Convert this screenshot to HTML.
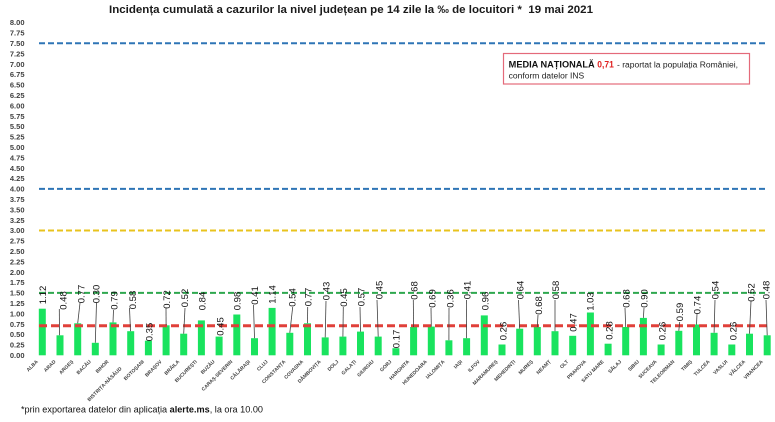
<!DOCTYPE html>
<html><head><meta charset="utf-8"><style>
html,body{margin:0;padding:0;background:#fff;}
svg{display:block;}
text{font-family:"Liberation Sans",Arial,sans-serif;}
.yl{font-size:7.5px;font-weight:bold;fill:#404040;text-anchor:end;}
.dl{font-size:9.5px;fill:#111;text-anchor:middle;}
.xl{font-size:5px;font-weight:bold;fill:#404040;text-anchor:end;}
.ld{stroke:#404040;stroke-width:0.8;}
.b{fill:#19e35e;}
</style></head><body>
<svg width="775" height="422" viewBox="0 0 775 422" xmlns="http://www.w3.org/2000/svg">
<rect width="775" height="422" fill="#fff"/>
<text x="109" y="13" font-size="11" font-weight="bold" fill="#1a1a1a" textLength="484" lengthAdjust="spacingAndGlyphs">Incidența cumulată a cazurilor la nivel județean pe 14 zile la ‰ de locuitori *&#160; 19 mai 2021</text>

<!-- y axis labels -->
<g class="yl">
<text x="24.5" y="358">0.00</text><text x="24.5" y="347.6">0.25</text><text x="24.5" y="337.2">0.50</text><text x="24.5" y="326.8">0.75</text>
<text x="24.5" y="316.4">1.00</text><text x="24.5" y="306">1.25</text><text x="24.5" y="295.6">1.50</text><text x="24.5" y="285.2">1.75</text>
<text x="24.5" y="274.8">2.00</text><text x="24.5" y="264.4">2.25</text><text x="24.5" y="254">2.50</text><text x="24.5" y="243.6">2.75</text>
<text x="24.5" y="233.2">3.00</text><text x="24.5" y="222.8">3.25</text><text x="24.5" y="212.4">3.50</text><text x="24.5" y="202">3.75</text>
<text x="24.5" y="191.6">4.00</text><text x="24.5" y="181.2">4.25</text><text x="24.5" y="170.8">4.50</text><text x="24.5" y="160.4">4.75</text>
<text x="24.5" y="150">5.00</text><text x="24.5" y="139.6">5.25</text><text x="24.5" y="129.2">5.50</text><text x="24.5" y="118.8">5.75</text>
<text x="24.5" y="108.4">6.00</text><text x="24.5" y="98">6.25</text><text x="24.5" y="87.6">6.50</text><text x="24.5" y="77.2">6.75</text>
<text x="24.5" y="66.8">7.00</text><text x="24.5" y="56.4">7.25</text><text x="24.5" y="46">7.50</text><text x="24.5" y="35.6">7.75</text>
<text x="24.5" y="25.2">8.00</text>
</g>

<!-- bars -->
<g class="b">
<rect x="38.8" y="308.7" width="7" height="46.6"/>
<rect x="56.5" y="335.3" width="7" height="20"/>
<rect x="74.2" y="323.3" width="7" height="32"/>
<rect x="91.8" y="342.8" width="7" height="12.5"/>
<rect x="109.5" y="322.4" width="7" height="32.9"/>
<rect x="127.2" y="331.2" width="7" height="24.1"/>
<rect x="144.9" y="340.7" width="7" height="14.6"/>
<rect x="162.6" y="325.3" width="7" height="30"/>
<rect x="180.2" y="333.7" width="7" height="21.6"/>
<rect x="197.9" y="320.4" width="7" height="34.9"/>
<rect x="215.6" y="336.6" width="7" height="18.7"/>
<rect x="233.3" y="314.5" width="7" height="40.8"/>
<rect x="251" y="338.2" width="7" height="17.1"/>
<rect x="268.6" y="307.9" width="7" height="47.4"/>
<rect x="286.3" y="332.8" width="7" height="22.5"/>
<rect x="304" y="323.3" width="7" height="32"/>
<rect x="321.7" y="337.4" width="7" height="17.9"/>
<rect x="339.4" y="336.6" width="7" height="18.7"/>
<rect x="357" y="331.6" width="7" height="23.7"/>
<rect x="374.7" y="336.6" width="7" height="18.7"/>
<rect x="392.4" y="348.2" width="7" height="7.1"/>
<rect x="410.1" y="327" width="7" height="28.3"/>
<rect x="427.8" y="326.6" width="7" height="28.7"/>
<rect x="445.4" y="340.3" width="7" height="15"/>
<rect x="463.1" y="338.2" width="7" height="17.1"/>
<rect x="480.8" y="315.4" width="7" height="39.9"/>
<rect x="498.5" y="344.5" width="7" height="10.8"/>
<rect x="516.2" y="328.7" width="7" height="26.6"/>
<rect x="533.8" y="327" width="7" height="28.3"/>
<rect x="551.5" y="331.2" width="7" height="24.1"/>
<rect x="569.2" y="335.8" width="7" height="19.5"/>
<rect x="586.9" y="312.5" width="7" height="42.8"/>
<rect x="604.6" y="343.7" width="7" height="11.6"/>
<rect x="622.2" y="327" width="7" height="28.3"/>
<rect x="639.9" y="317.9" width="7" height="37.4"/>
<rect x="657.6" y="344.5" width="7" height="10.8"/>
<rect x="675.3" y="330.8" width="7" height="24.5"/>
<rect x="693" y="324.5" width="7" height="30.8"/>
<rect x="710.6" y="332.8" width="7" height="22.5"/>
<rect x="728.3" y="344.5" width="7" height="10.8"/>
<rect x="746" y="333.7" width="7" height="21.6"/>
<rect x="763.7" y="335.3" width="7" height="20"/>
</g>

<!-- reference lines -->
<line x1="39" y1="43.3" x2="767" y2="43.3" stroke="#2e75b6" stroke-width="2" stroke-dasharray="6 3"/>
<line x1="39" y1="188.9" x2="767" y2="188.9" stroke="#2e75b6" stroke-width="2" stroke-dasharray="6 3"/>
<line x1="39" y1="230.5" x2="767" y2="230.5" stroke="#e8c31e" stroke-width="2" stroke-dasharray="6 3"/>
<line x1="39" y1="292.9" x2="767" y2="292.9" stroke="#2ea84f" stroke-width="2" stroke-dasharray="6 3"/>
<line x1="39" y1="325.8" x2="767" y2="325.8" stroke="#e0403a" stroke-width="3" stroke-dasharray="8 4"/>

<!-- leader lines -->
<g class="ld">
<line x1="59.3" y1="309" x2="59.5" y2="335.3"/>
<line x1="80" y1="303" x2="77.7" y2="323.3"/>
<line x1="96.5" y1="303" x2="95.3" y2="342.8"/>
<line x1="113.5" y1="310" x2="113" y2="322.4"/>
<line x1="129.5" y1="308" x2="130.5" y2="331.2"/>
<line x1="166" y1="308" x2="166.1" y2="325.3"/>
<line x1="185" y1="308" x2="183.7" y2="333.7"/>
<line x1="253.5" y1="305" x2="254.5" y2="338.2"/>
<line x1="292.7" y1="307" x2="289.8" y2="332.8"/>
<line x1="307.7" y1="307" x2="307.5" y2="323.3"/>
<line x1="326" y1="301" x2="325.2" y2="337.4"/>
<line x1="343.3" y1="307" x2="342.9" y2="336.6"/>
<line x1="360" y1="307" x2="360.5" y2="331.6"/>
<line x1="377" y1="300" x2="378.2" y2="336.6"/>
<line x1="413.3" y1="300" x2="413.6" y2="327"/>
<line x1="431" y1="308" x2="431.3" y2="326.6"/>
<line x1="449" y1="308" x2="448.9" y2="340.3"/>
<line x1="466.5" y1="300" x2="466.6" y2="338.2"/>
<line x1="518.5" y1="300" x2="519.7" y2="328.7"/>
<line x1="538" y1="315" x2="537.3" y2="327"/>
<line x1="555" y1="300" x2="555" y2="331.2"/>
<line x1="625" y1="308" x2="625.7" y2="327"/>
<line x1="644" y1="308" x2="643.4" y2="317.9"/>
<line x1="679.7" y1="322" x2="678.8" y2="330.8"/>
<line x1="697" y1="314" x2="696.5" y2="324.5"/>
<line x1="715" y1="300" x2="714.1" y2="332.8"/>
<line x1="751" y1="301" x2="749.5" y2="333.7"/>
<line x1="766" y1="300" x2="767.2" y2="335.3"/>
</g>

<!-- data labels -->
<g class="dl">
<text transform="translate(42.5,295) rotate(-90)" dy="0.35em">1.12</text>
<text transform="translate(63,300.5) rotate(-90)" dy="0.35em">0.48</text>
<text transform="translate(81,294) rotate(-90)" dy="0.35em">0.77</text>
<text transform="translate(96,294) rotate(-90)" dy="0.35em">0.30</text>
<text transform="translate(114,300.5) rotate(-90)" dy="0.35em">0.79</text>
<text transform="translate(132.5,300) rotate(-90)" dy="0.35em">0.58</text>
<text transform="translate(149,332) rotate(-90)" dy="0.35em">0.35</text>
<text transform="translate(166.5,299.5) rotate(-90)" dy="0.35em">0.72</text>
<text transform="translate(184.5,298) rotate(-90)" dy="0.35em">0.52</text>
<text transform="translate(202,301) rotate(-90)" dy="0.35em">0.84</text>
<text transform="translate(220,326.5) rotate(-90)" dy="0.35em">0.45</text>
<text transform="translate(237,301) rotate(-90)" dy="0.35em">0.98</text>
<text transform="translate(254.5,295.5) rotate(-90)" dy="0.35em">0.41</text>
<text transform="translate(272,294.5) rotate(-90)" dy="0.35em">1.14</text>
<text transform="translate(292,297.5) rotate(-90)" dy="0.35em">0.54</text>
<text transform="translate(308,297) rotate(-90)" dy="0.35em">0.77</text>
<text transform="translate(326,291) rotate(-90)" dy="0.35em">0.43</text>
<text transform="translate(343.7,297.5) rotate(-90)" dy="0.35em">0.45</text>
<text transform="translate(361,297) rotate(-90)" dy="0.35em">0.57</text>
<text transform="translate(379,290) rotate(-90)" dy="0.35em">0.45</text>
<text transform="translate(396.3,339) rotate(-90)" dy="0.35em">0.17</text>
<text transform="translate(414,290.5) rotate(-90)" dy="0.35em">0.68</text>
<text transform="translate(432,298.5) rotate(-90)" dy="0.35em">0.69</text>
<text transform="translate(450,298.5) rotate(-90)" dy="0.35em">0.36</text>
<text transform="translate(467,290) rotate(-90)" dy="0.35em">0.41</text>
<text transform="translate(485,301) rotate(-90)" dy="0.35em">0.96</text>
<text transform="translate(503,331) rotate(-90)" dy="0.35em">0.26</text>
<text transform="translate(520.3,290) rotate(-90)" dy="0.35em">0.64</text>
<text transform="translate(538.7,305.5) rotate(-90)" dy="0.35em">0.68</text>
<text transform="translate(555.7,290) rotate(-90)" dy="0.35em">0.58</text>
<text transform="translate(573,322.5) rotate(-90)" dy="0.35em">0.47</text>
<text transform="translate(590.3,301.5) rotate(-90)" dy="0.35em">1.03</text>
<text transform="translate(609,330.5) rotate(-90)" dy="0.35em">0.28</text>
<text transform="translate(626,298.5) rotate(-90)" dy="0.35em">0.68</text>
<text transform="translate(644,298.5) rotate(-90)" dy="0.35em">0.90</text>
<text transform="translate(662,331) rotate(-90)" dy="0.35em">0.26</text>
<text transform="translate(679.7,312) rotate(-90)" dy="0.35em">0.59</text>
<text transform="translate(697,305) rotate(-90)" dy="0.35em">0.74</text>
<text transform="translate(715,290) rotate(-90)" dy="0.35em">0.54</text>
<text transform="translate(733,331) rotate(-90)" dy="0.35em">0.26</text>
<text transform="translate(751,292.5) rotate(-90)" dy="0.35em">0.52</text>
<text transform="translate(766.3,290) rotate(-90)" dy="0.35em">0.48</text>
</g>

<!-- x axis labels -->
<g class="xl">
<text transform="translate(38.3,362) rotate(-45)">ALBA</text>
<text transform="translate(56,362) rotate(-45)">ARAD</text>
<text transform="translate(73.7,362) rotate(-45)">ARGEȘ</text>
<text transform="translate(91.3,362) rotate(-45)">BACĂU</text>
<text transform="translate(109,362) rotate(-45)">BIHOR</text>
<text transform="translate(122,369) rotate(-45)">BISTRIȚA-NĂSĂUD</text>
<text transform="translate(144.4,362) rotate(-45)">BOTOȘANI</text>
<text transform="translate(162.1,362) rotate(-45)">BRAȘOV</text>
<text transform="translate(179.7,362) rotate(-45)">BRĂILA</text>
<text transform="translate(197.4,362) rotate(-45)">BUCUREȘTI</text>
<text transform="translate(215.1,362) rotate(-45)">BUZĂU</text>
<text transform="translate(232.8,362) rotate(-45)">CARAȘ-SEVERIN</text>
<text transform="translate(250.5,362) rotate(-45)">CĂLĂRAȘI</text>
<text transform="translate(268.1,362) rotate(-45)">CLUJ</text>
<text transform="translate(285.8,362) rotate(-45)">CONSTANȚA</text>
<text transform="translate(303.5,362) rotate(-45)">COVASNA</text>
<text transform="translate(321.2,362) rotate(-45)">DÂMBOVIȚA</text>
<text transform="translate(338.9,362) rotate(-45)">DOLJ</text>
<text transform="translate(356.5,362) rotate(-45)">GALAȚI</text>
<text transform="translate(374.2,362) rotate(-45)">GIURGIU</text>
<text transform="translate(391.9,362) rotate(-45)">GORJ</text>
<text transform="translate(409.6,362) rotate(-45)">HARGHITA</text>
<text transform="translate(427.3,362) rotate(-45)">HUNEDOARA</text>
<text transform="translate(444.9,362) rotate(-45)">IALOMIȚA</text>
<text transform="translate(462.6,362) rotate(-45)">IAȘI</text>
<text transform="translate(480.3,362) rotate(-45)">ILFOV</text>
<text transform="translate(498,362) rotate(-45)">MARAMUREȘ</text>
<text transform="translate(515.7,362) rotate(-45)">MEHEDINȚI</text>
<text transform="translate(533.3,362) rotate(-45)">MUREȘ</text>
<text transform="translate(551,362) rotate(-45)">NEAMȚ</text>
<text transform="translate(568.7,362) rotate(-45)">OLT</text>
<text transform="translate(586.4,362) rotate(-45)">PRAHOVA</text>
<text transform="translate(604.1,362) rotate(-45)">SATU MARE</text>
<text transform="translate(621.7,362) rotate(-45)">SĂLAJ</text>
<text transform="translate(639.4,362) rotate(-45)">SIBIU</text>
<text transform="translate(657.1,362) rotate(-45)">SUCEAVA</text>
<text transform="translate(674.8,362) rotate(-45)">TELEORMAN</text>
<text transform="translate(692.5,362) rotate(-45)">TIMIȘ</text>
<text transform="translate(710.1,362) rotate(-45)">TULCEA</text>
<text transform="translate(727.8,362) rotate(-45)">VASLUI</text>
<text transform="translate(745.5,362) rotate(-45)">VÂLCEA</text>
<text transform="translate(763.2,362) rotate(-45)">VRANCEA</text>
</g>

<!-- legend box -->
<rect x="503.5" y="53.5" width="246" height="30.5" fill="#fff" stroke="#e46a7a" stroke-width="1.2"/>
<text x="508.7" y="67.3" font-size="9" font-weight="bold" fill="#111" textLength="86" lengthAdjust="spacingAndGlyphs">MEDIA NAȚIONALĂ</text>
<text x="597.3" y="67.3" font-size="9" font-weight="bold" fill="#e02020" textLength="16.5" lengthAdjust="spacingAndGlyphs">0,71</text>
<text x="617" y="67.3" font-size="7.8" fill="#222" textLength="121" lengthAdjust="spacingAndGlyphs">- raportat la populația României,</text>
<text x="508.7" y="78.3" font-size="7.8" fill="#222" textLength="75.5" lengthAdjust="spacingAndGlyphs">conform datelor INS</text>

<!-- footnote -->
<text x="21" y="412.3" font-size="8.8" fill="#111" textLength="242" lengthAdjust="spacingAndGlyphs">*prin exportarea datelor din aplicația <tspan font-weight="bold">alerte.ms</tspan>, la ora 10.00</text>
</svg>
</body></html>
